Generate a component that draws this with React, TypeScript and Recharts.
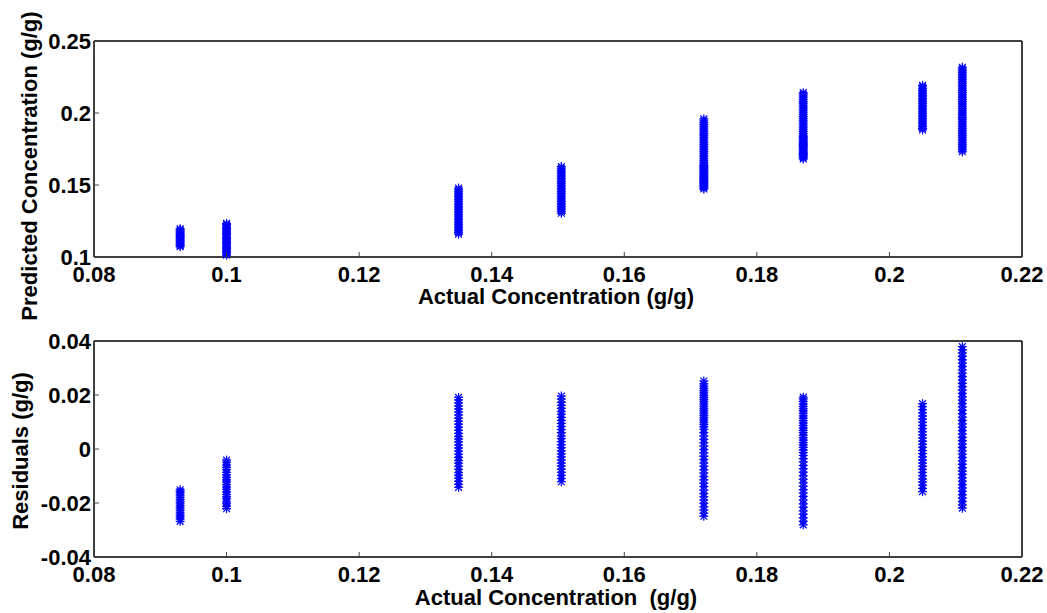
import React from 'react';
import { ScatterChart, Scatter, XAxis, YAxis } from 'recharts';

// actual concentrations of the eight sample groups (g/g)
const actual = [0.093, 0.1, 0.135, 0.1505, 0.172, 0.187, 0.205, 0.211];

// predicted concentrations, one list per sample group
const pred093 = [0.1072, 0.1081, 0.1088, 0.1097, 0.1104, 0.1112, 0.1119, 0.1128, 0.1135, 0.1143, 0.1151, 0.1158, 0.1166, 0.1174, 0.1181, 0.1189, 0.1196];
const pred100 = [0.1013, 0.1021, 0.1032, 0.1041, 0.1049, 0.1058, 0.1067, 0.1076, 0.1084, 0.1093, 0.1102, 0.1111, 0.1119, 0.1128, 0.1137, 0.1146, 0.1154, 0.1163, 0.1172, 0.1181, 0.1189, 0.1198, 0.1207, 0.1216, 0.1225, 0.1233];
const pred135 = [0.1158, 0.1169, 0.1181, 0.1192, 0.1204, 0.1215, 0.1227, 0.1238, 0.1249, 0.1261, 0.1272, 0.1284, 0.1295, 0.1307, 0.1318, 0.1329, 0.1341, 0.1352, 0.1364, 0.1375, 0.1387, 0.1398, 0.1409, 0.1421, 0.1432, 0.1444, 0.1455, 0.1468, 0.1479];
const pred150 = [0.1304, 0.1316, 0.1327, 0.1339, 0.135, 0.1362, 0.1373, 0.1385, 0.1396, 0.1408, 0.1419, 0.1431, 0.1442, 0.1453, 0.1465, 0.1476, 0.1488, 0.1499, 0.1511, 0.1522, 0.1534, 0.1545, 0.1557, 0.1568, 0.1581, 0.1592, 0.1604, 0.1617, 0.1628];
const pred172 = [0.1472, 0.1479, 0.1487, 0.1494, 0.1501, 0.1509, 0.1516, 0.1524, 0.1531, 0.1538, 0.1546, 0.1553, 0.1561, 0.1568, 0.1576, 0.1583, 0.1591, 0.1598, 0.1606, 0.1613, 0.1621, 0.1628, 0.1636, 0.1645, 0.1657, 0.167, 0.1682, 0.1695, 0.1707, 0.172, 0.1732, 0.1745, 0.1757, 0.177, 0.1782, 0.1795, 0.1807, 0.182, 0.1832, 0.1845, 0.1857, 0.187, 0.1882, 0.1895, 0.1907, 0.192, 0.1932, 0.1945, 0.1959];
const pred187 = [0.1681, 0.1688, 0.1696, 0.1704, 0.1712, 0.1719, 0.1727, 0.1735, 0.1743, 0.175, 0.1758, 0.1766, 0.1774, 0.1781, 0.1789, 0.1797, 0.1805, 0.1812, 0.182, 0.1828, 0.1836, 0.1845, 0.1858, 0.1871, 0.1884, 0.1897, 0.191, 0.1923, 0.1936, 0.1949, 0.1962, 0.1975, 0.1988, 0.2001, 0.2014, 0.2027, 0.204, 0.2053, 0.2066, 0.2079, 0.2092, 0.2105, 0.2118, 0.2131, 0.2141];
const pred205 = [0.1882, 0.1893, 0.1905, 0.1916, 0.1928, 0.1939, 0.1951, 0.1962, 0.1974, 0.1985, 0.1997, 0.2008, 0.202, 0.2031, 0.2043, 0.2054, 0.2066, 0.2077, 0.2089, 0.21, 0.2112, 0.2123, 0.2135, 0.2146, 0.2158, 0.2169, 0.2181, 0.2192];
const pred211 = [0.1731, 0.1743, 0.1756, 0.1768, 0.1781, 0.1793, 0.1806, 0.1818, 0.1831, 0.1843, 0.1856, 0.1868, 0.1881, 0.1893, 0.1906, 0.1918, 0.1931, 0.1943, 0.1956, 0.1968, 0.1981, 0.1993, 0.2006, 0.2018, 0.2031, 0.2043, 0.2056, 0.2068, 0.2081, 0.2093, 0.2106, 0.2118, 0.2131, 0.2143, 0.2156, 0.2168, 0.2181, 0.2193, 0.2206, 0.2218, 0.2231, 0.2243, 0.2256, 0.2268, 0.2281, 0.2293, 0.2306, 0.2318];

// residuals, one list per sample group
const res093 = [-0.0268, -0.0259, -0.0251, -0.0244, -0.0236, -0.0227, -0.0219, -0.0211, -0.0203, -0.0196, -0.0188, -0.0179, -0.0171, -0.0163, -0.0157, -0.0151];
const res100 = [-0.0221, -0.0212, -0.0203, -0.0196, -0.0185, -0.0177, -0.0168, -0.0159, -0.0149, -0.0141, -0.0132, -0.0122, -0.0114, -0.0105, -0.0096, -0.0087, -0.0076, -0.0068, -0.0059, -0.0049, -0.0041];
const res135 = [-0.0142, -0.0131, -0.0119, -0.0108, -0.0097, -0.0088, -0.0075, -0.0064, -0.0052, -0.0043, -0.0031, -0.0019, -0.0008, 0.0004, 0.0015, 0.0026, 0.0037, 0.0046, 0.0058, 0.0069, 0.0081, 0.0092, 0.0103, 0.0114, 0.0126, 0.0137, 0.0148, 0.0159, 0.0171, 0.0182, 0.0191];
const res150 = [-0.0121, -0.0109, -0.0098, -0.0086, -0.0075, -0.0063, -0.0052, -0.0041, -0.0029, -0.0018, -0.0007, 0.0005, 0.0016, 0.0027, 0.0039, 0.0048, 0.0061, 0.0072, 0.0083, 0.0095, 0.0106, 0.0117, 0.0129, 0.0138, 0.0151, 0.0162, 0.0173, 0.0185, 0.0196];
const res172 = [-0.0249, -0.0238, -0.0226, -0.0214, -0.0201, -0.0189, -0.0177, -0.0165, -0.0152, -0.0139, -0.0127, -0.0114, -0.0102, -0.0089, -0.0077, -0.0064, -0.0052, -0.0039, -0.0027, -0.0014, -0.0002, 0.0011, 0.0023, 0.0036, 0.0048, 0.0061, 0.0073, 0.0082, 0.0091, 0.0099, 0.0108, 0.0116, 0.0124, 0.0133, 0.0141, 0.0149, 0.0158, 0.0166, 0.0175, 0.0183, 0.0191, 0.0199, 0.0208, 0.0216, 0.0224, 0.0233, 0.0241, 0.0252];
const res187 = [-0.0281, -0.0268, -0.0255, -0.0242, -0.0229, -0.0216, -0.0203, -0.0189, -0.0176, -0.0163, -0.0151, -0.0138, -0.0125, -0.0112, -0.0099, -0.0086, -0.0073, -0.0061, -0.0048, -0.0036, -0.0024, -0.0013, -0.0004, 0.0006, 0.0015, 0.0024, 0.0033, 0.0042, 0.0051, 0.0061, 0.0069, 0.0078, 0.0087, 0.0096, 0.0105, 0.0114, 0.0123, 0.0132, 0.0141, 0.0149, 0.0158, 0.0167, 0.0176, 0.0185, 0.0192];
const res205 = [-0.0158, -0.0146, -0.0134, -0.0122, -0.0111, -0.0099, -0.0087, -0.0075, -0.0064, -0.0052, -0.0041, -0.0029, -0.0017, -0.0006, 0.0006, 0.0018, 0.0029, 0.0041, 0.0052, 0.0064, 0.0076, 0.0087, 0.0099, 0.0111, 0.0122, 0.0134, 0.0146, 0.0157, 0.0168];
const res211 = [-0.0219, -0.0207, -0.0194, -0.0182, -0.0169, -0.0157, -0.0144, -0.0132, -0.0119, -0.0107, -0.0094, -0.0082, -0.0069, -0.0057, -0.0044, -0.0032, -0.0019, -0.0007, 0.0006, 0.0018, 0.0031, 0.0043, 0.0056, 0.0068, 0.0081, 0.0093, 0.0106, 0.0118, 0.0131, 0.0143, 0.0156, 0.0168, 0.0181, 0.0193, 0.0206, 0.0218, 0.0231, 0.0243, 0.0256, 0.0268, 0.0281, 0.0293, 0.0306, 0.0318, 0.0331, 0.0343, 0.0356, 0.0368, 0.0379];

const xTicks = [0.08, 0.1, 0.12, 0.14, 0.16, 0.18, 0.2, 0.22];
const predTicks = [0.1, 0.15, 0.2, 0.25];
const resTicks = [-0.04, -0.02, 0, 0.02, 0.04];

const predGroups = [pred093, pred100, pred135, pred150, pred172, pred187, pred205, pred211];
const resGroups = [res093, res100, res135, res150, res172, res187, res205, res211];

const toPoints = (groups: number[][]) =>
    groups.flatMap((vals, i) => vals.map((y) => ({ x: actual[i], y })));

const predData = toPoints(predGroups);
const resData = toPoints(resGroups);

const FONT = '"Liberation Sans", Arial, sans-serif';
const BLUE = '#0000ff';
const TICK = '#444';
const textStyle = { fontFamily: FONT, fontSize: 22, fontWeight: 'bold', fill: '#000' } as any;
const axisLine = { stroke: '#000', strokeWidth: 1.5 };

// matlab style '*' marker
const Star = (props: any) => {
    const { cx, cy } = props;
    const r = 4.5;
    const d = 3.4;
    return (
        <g stroke={BLUE} strokeWidth={1.2}>
            <line x1={cx - r} y1={cy} x2={cx + r} y2={cy} />
            <line x1={cx} y1={cy - r} x2={cx} y2={cy + r} />
            <line x1={cx - d} y1={cy - d} x2={cx + d} y2={cy + d} />
            <line x1={cx - d} y1={cy + d} x2={cx + d} y2={cy - d} />
        </g>
    );
};

// ticks point inwards, like matlab
const BottomTick = ({ x, y, payload }: any) => (
    <g>
        <line x1={x} y1={y} x2={x} y2={y - 5} stroke={TICK} />
        <text x={x} y={y + 25} textAnchor="middle" style={textStyle}>{String(payload.value)}</text>
    </g>
);
const LeftTick = ({ x, y, payload }: any) => (
    <g>
        <line x1={x} y1={y} x2={x + 5} y2={y} stroke={TICK} />
        <text x={x - 3} y={y} dy="0.36em" textAnchor="end" style={textStyle}>{String(payload.value)}</text>
    </g>
);
const TopTick = ({ x, y }: any) => <line x1={x} y1={y} x2={x} y2={y + 5} stroke={TICK} />;
const RightTick = ({ x, y }: any) => <line x1={x} y1={y} x2={x - 5} y2={y} stroke={TICK} />;

const Panel = ({ data, yDomain, yTicks, height, bottom }: any) => (
    <ScatterChart width={1047} height={height} margin={{ top: 40, right: 24, bottom: 0, left: 0 }}>
        <XAxis xAxisId="b" type="number" dataKey="x" domain={[0.08, 0.22]} ticks={xTicks} interval={0}
            height={bottom} tickSize={0} tickMargin={0} tickLine={false} tick={<BottomTick />} axisLine={axisLine} />
        <XAxis xAxisId="t" orientation="top" type="number" dataKey="x" domain={[0.08, 0.22]} ticks={xTicks} interval={0}
            height={1} tickSize={0} tickMargin={0} tickLine={false} tick={<TopTick />} axisLine={axisLine} />
        <YAxis yAxisId="l" type="number" dataKey="y" domain={yDomain} ticks={yTicks} interval={0}
            width={94} tickSize={0} tickMargin={0} tickLine={false} tick={<LeftTick />} axisLine={axisLine} />
        <YAxis yAxisId="r" orientation="right" type="number" dataKey="y" domain={yDomain} ticks={yTicks} interval={0}
            width={1} tickSize={0} tickMargin={0} tickLine={false} tick={<RightTick />} axisLine={axisLine} />
        <Scatter data={data} xAxisId="b" yAxisId="l" shape={<Star />} isAnimationActive={false} />
    </ScatterChart>
);

export default function App() {
    const labelStyle = { ...textStyle, whiteSpace: 'pre' };
    return (
        <div style={{ position: 'absolute', left: 0, top: 0, width: 1047, height: 613, background: '#fff', fontFamily: FONT }}>
            <div style={{ position: 'absolute', left: 0, top: 0 }}>
                <Panel data={predData} yDomain={[0.1, 0.25]} yTicks={predTicks} height={300} bottom={43} />
            </div>
            <div style={{ position: 'absolute', left: 0, top: 300 }}>
                <Panel data={resData} yDomain={[-0.04, 0.04]} yTicks={resTicks} height={313} bottom={56} />
            </div>
            <svg width={1047} height={613} style={{ position: 'absolute', left: 0, top: 0, pointerEvents: 'none' }}>
                <text x={556} y={304} textAnchor="middle" style={labelStyle}>Actual Concentration (g/g)</text>
                <text x={556} y={605} textAnchor="middle" style={labelStyle}>Actual Concentration  (g/g)</text>
                <text transform="translate(37,166) rotate(-90)" textAnchor="middle" style={labelStyle}>Predicted Concentration (g/g)</text>
                <text transform="translate(28,451) rotate(-90)" textAnchor="middle" style={labelStyle}>Residuals (g/g)</text>
            </svg>
        </div>
    );
}
